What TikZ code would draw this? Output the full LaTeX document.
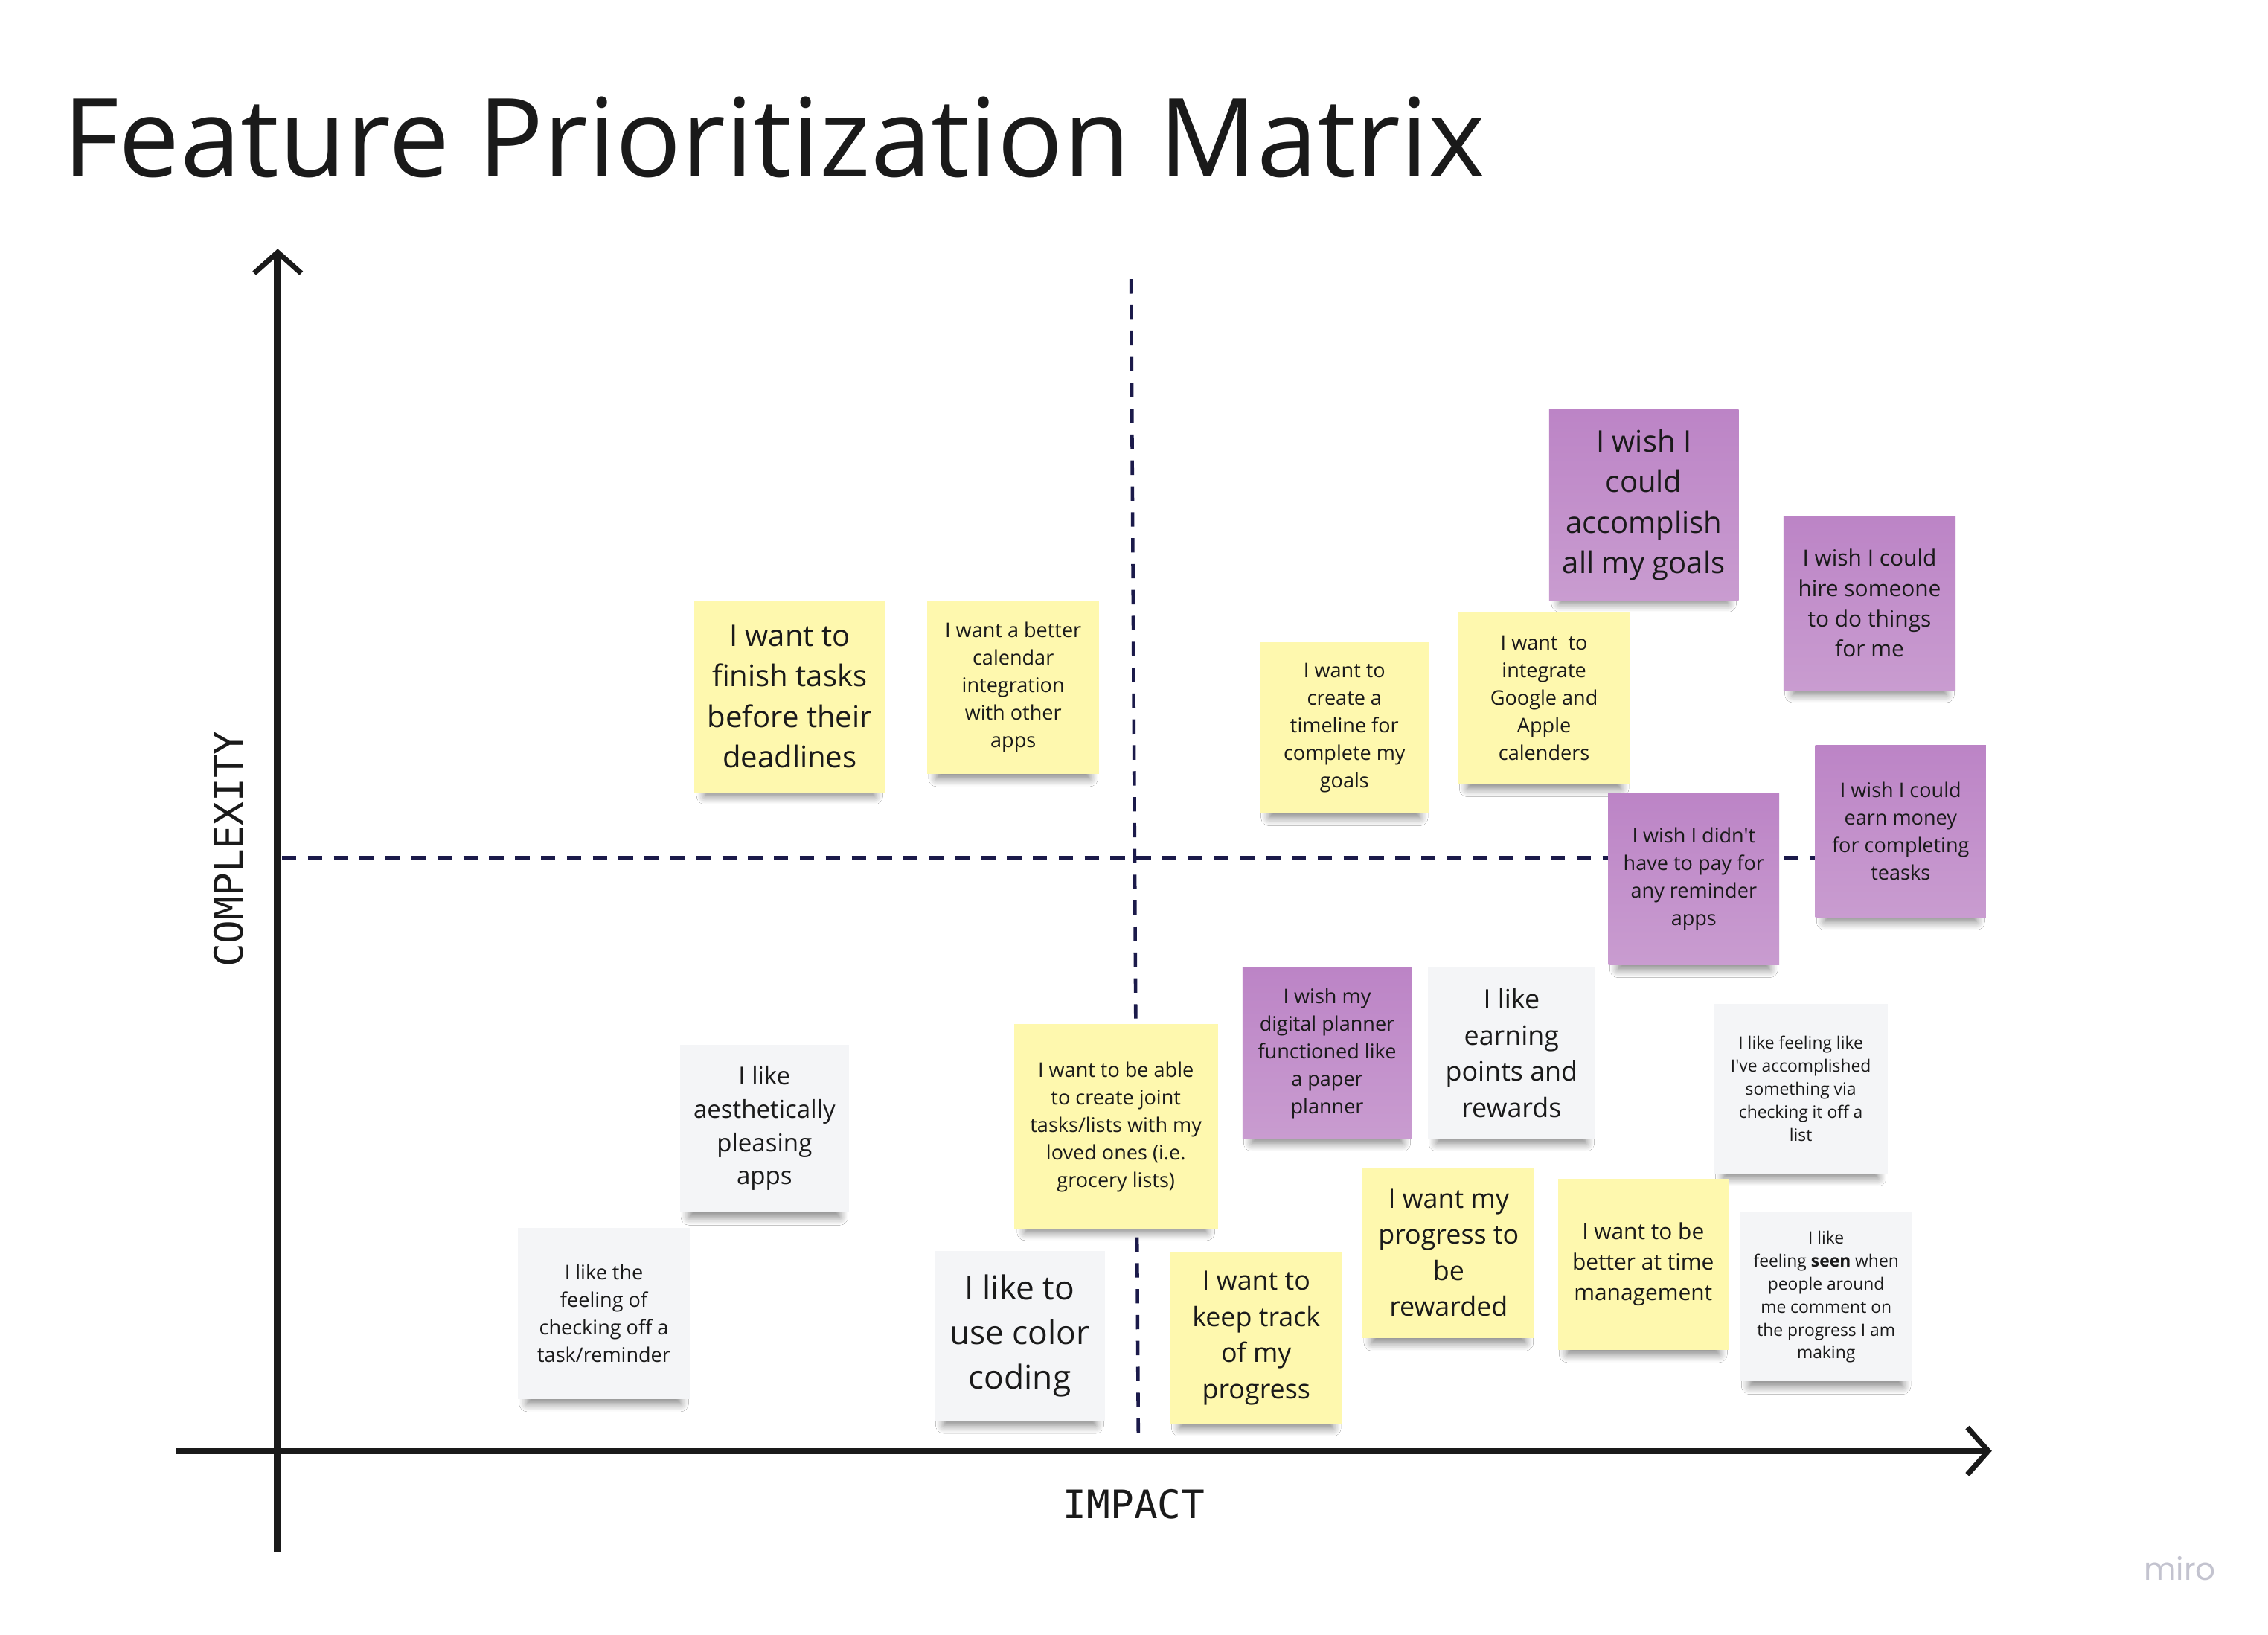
\documentclass[tikz,border=0pt]{standalone}
\usepackage{fontspec}
\setmainfont{Open Sans}[Ligatures=TeXOff]
\newfontfamily\monofont{DejaVu Sans Mono}
\newfontfamily\logofont{Poppins}
\usetikzlibrary{arrows.meta,shadows.blur}
\definecolor{stickyYellow}{HTML}{FEF8AE}
\definecolor{stickyPurple}{HTML}{BC84C6}
\definecolor{stickyPurpleLight}{HTML}{C99CD0}
\definecolor{stickyGray}{HTML}{F4F5F7}
\definecolor{inkText}{HTML}{1A1A1A}
\definecolor{navyDash}{HTML}{1B1A4A}
\definecolor{logoGray}{HTML}{C3C3CF}
\newdimen\su
\su=0.01944cm
\tikzset{
  note/.style={rectangle, inner sep=0pt, align=center, text=inkText,
    blur shadow={shadow xshift=0pt, shadow yshift=-6pt, shadow scale=0.89,
      shadow opacity=50, shadow blur radius=3.5pt, shadow blur steps=8}},
  yellowNote/.style={note, fill=stickyYellow},
  purpleNote/.style={note, top color=stickyPurple, bottom color=stickyPurpleLight},
  grayNote/.style={note, fill=stickyGray},
  sz/.style 2 args={minimum width=#1\su, minimum height=#2\su},
  fXL/.style={font=\fontsize{12.6}{17.1}\selectfont},
  fL/.style={font=\fontsize{11.4}{15.5}\selectfont},
  fM/.style={font=\fontsize{10.2}{13.8}\selectfont},
  fMS/.style={font=\fontsize{9.4}{12.7}\selectfont},
  fS/.style={font=\fontsize{8.5}{11.6}\selectfont},
  fXS/.style={font=\fontsize{7.7}{10.5}\selectfont},
  fXXS/.style={font=\fontsize{6.5}{8.8}\selectfont},
  axisline/.style={draw=inkText, line width=2.8pt},
  quadline/.style={draw=navyDash, line width=1.3pt, dash pattern=on 5.5pt off 4.4pt},
  axislabel/.style={font=\monofont\fontsize{15}{18}\selectfont, text=inkText, inner sep=0pt}
}
\begin{document}
\begin{tikzpicture}[x=0.01944cm, y=-0.01944cm]
\fill[white] (0,0) rectangle (1568,1130);
\useasboundingbox (0,0) rectangle (1568,1130);

% title
\node[anchor=base west, inner sep=0pt, text=inkText, font=\fontsize{41.7}{48}\selectfont] (title) at (43,122) {Feature Prioritization Matrix};

% quadrant dashed lines
\coordinate (dvtop) at (782,193);
\coordinate (dvbot) at (787,995);
\coordinate (dhleft) at (195,593);
\coordinate (dhright) at (1290,593);
\draw[quadline] (dvtop) -- (dvbot);
\draw[quadline] (dhleft) -- (dhright);

% axes
\coordinate (vbot) at (192,1073);
\coordinate (vtop) at (192,172);
\coordinate (hleft) at (122,1003);
\coordinate (hright) at (1377,1003);
\draw[axisline, -{Straight Barb[length=8pt, width=18pt, line width=2pt]}] (vbot) -- (vtop);
\draw[axisline, line width=2.4pt, -{Straight Barb[length=8pt, width=18pt, line width=2pt]}] (hleft) -- (hright);

\node[axislabel, rotate=90] (complexity) at (158,587) {COMPLEXITY};
\node[axislabel] (impact) at (784,1040) {IMPACT};

% sticky notes
\node[yellowNote, sz={132}{133}, fL] (y1) at (546,481.5) {I want to\\finish tasks\\before their\\deadlines};
\node[yellowNote, sz={119}{120}, fXS] (y2) at (700.5,475) {I want a better\\calendar\\integration\\with other\\apps};
\node[yellowNote, sz={117}{118}, fXS] (y3) at (929.5,503) {I want to\\create a\\timeline for\\complete my\\goals};
\node[yellowNote, sz={119}{119}, fXS] (y4) at (1067.5,482.5) {I want\ \ to\\integrate\\Google and\\Apple\\calenders};
\node[purpleNote, sz={131}{132}, fL] (p1) at (1136.5,349) {I wish I\\could\\accomplish\\all my goals};
\node[purpleNote, sz={119}{120}, fS] (p2) at (1292.5,417) {I wish I could\\hire someone\\to do things\\for me};
\node[purpleNote, sz={118}{119}, fXS] (p3) at (1171,607.5) {I wish I didn't\\have to pay for\\any reminder\\apps};
\node[purpleNote, sz={118}{119}, fXS] (p4) at (1314,574.5) {I wish I could\\earn money\\for completing\\teasks};
\node[purpleNote, sz={117}{118}, fXS] (p5) at (917.5,728) {I wish my\\digital planner\\functioned like\\a paper\\planner};
\node[grayNote, sz={116}{118}, fM] (g1) at (1045,728) {I like\\earning\\points and\\rewards};
\node[grayNote, sz={120}{117}, fXXS] (g2) at (1245,752.5) {I like feeling like\\I've accomplished\\something via\\checking it off a\\list};
\node[grayNote, sz={119}{117}, fXXS] (g3) at (1262.5,896.5) {I like\\feeling \textbf{seen} when\\people around\\me comment on\\the progress I am\\making};
\node[yellowNote, sz={141}{142}, fXS] (y5) at (771.5,779) {I want to be able\\to create joint\\tasks/lists with my\\loved ones (i.e.\\grocery lists)};
\node[grayNote, sz={117}{116}, fMS] (g4) at (528.5,780) {I like\\aesthetically\\pleasing\\apps};
\node[grayNote, sz={119}{118}, fXS] (g5) at (417.5,908) {I like the\\feeling of\\checking off a\\task/reminder};
\node[grayNote, sz={118}{117}, fXL] (g6) at (705,923.5) {I like to\\use color\\coding};
\node[yellowNote, sz={119}{118}, fM] (y6) at (868.5,925) {I want to\\keep track\\of my\\progress};
\node[yellowNote, sz={119}{118}, fM] (y7) at (1001.5,866) {I want my\\progress to\\be\\rewarded};
\node[yellowNote, sz={118}{118}, fS] (y8) at (1136,874) {I want to be\\better at time\\management};

% logo
\node[text=logoGray, font=\logofont\fontsize{12}{14}\selectfont, inner sep=0pt] (logo) at (1507,1084) {miro};
\end{tikzpicture}
\end{document}
